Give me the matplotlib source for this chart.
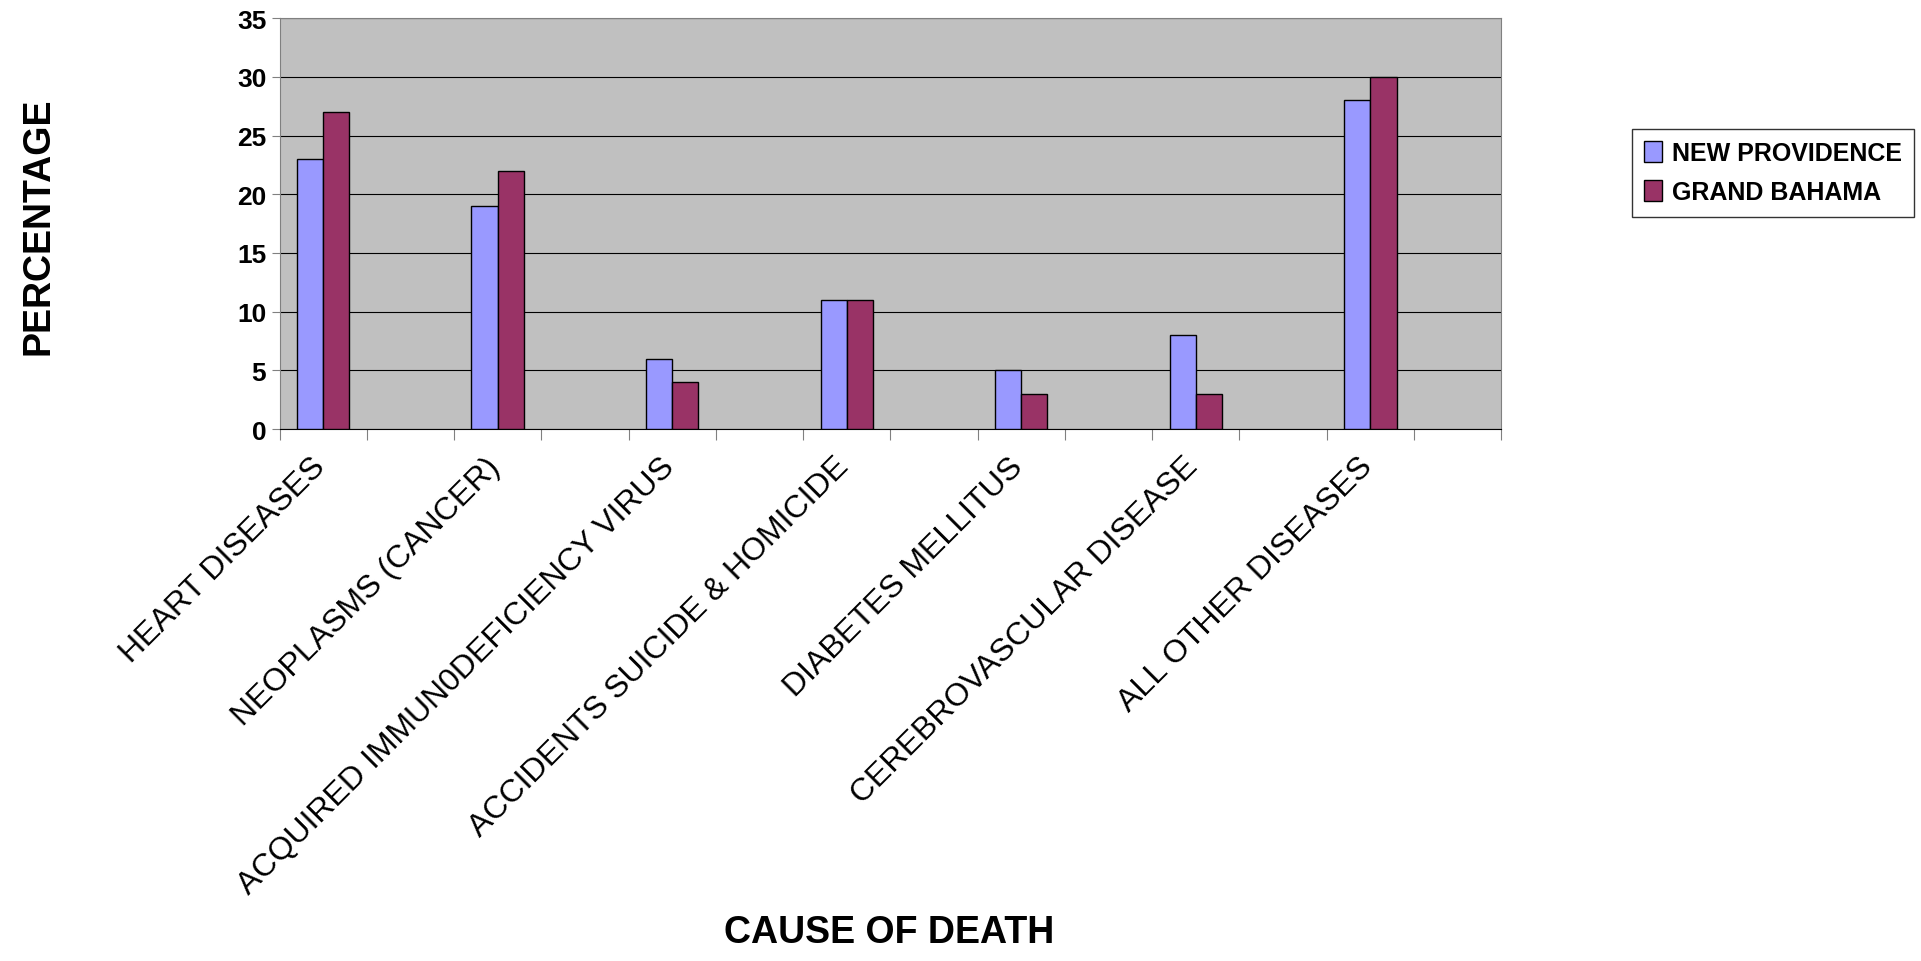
import matplotlib.pyplot as plt
import numpy as np

plt.rcParams['font.family'] = ['Liberation Sans', 'DejaVu Sans']

causes = ["HEART DISEASES", "NEOPLASMS (CANCER)", "ACQUIRED IMMUN0DEFICIENCY VIRUS",
          "ACCIDENTS SUICIDE & HOMICIDE", "DIABETES MELLITUS",
          "CEREBROVASCULAR DISEASE", "ALL OTHER DISEASES"]
new_providence = [23, 19, 6, 11, 5, 8, 28]
grand_bahama = [27, 22, 4, 11, 3, 3, 30]

fig = plt.figure(figsize=(19.21, 9.62), dpi=100)
ax = fig.add_axes([0.1455, 0.553, 0.636, 0.427])
ax.set_facecolor("#c0c0c0")

# each cause sits in the first half of a two-tick slot
x = np.arange(len(causes)) * 2 + 0.5
w = 0.3
ax.bar(x - w / 2, new_providence, w, color="#9999ff", edgecolor="black", linewidth=1, label="NEW PROVIDENCE", zorder=3)
ax.bar(x + w / 2, grand_bahama, w, color="#993366", edgecolor="black", linewidth=1, label="GRAND BAHAMA", zorder=3)

ax.set_xlim(0, 14)
ax.set_ylim(0, 35)
ax.set_yticks(range(0, 36, 5))
ax.yaxis.grid(True, color="black", linewidth=0.8, zorder=0)
ax.set_xticks(np.arange(0, 15, 1))
ax.set_xticklabels([])
ax.set_xticks(x - 0.15, minor=True)
ax.set_xticklabels(causes, minor=True, rotation=45, ha="right", rotation_mode="anchor", fontsize=23)
ax.tick_params(axis="x", which="minor", length=0, pad=16)
ax.tick_params(axis="x", which="major", length=8, direction="out", color="#808080")
ax.tick_params(axis="y", labelsize=19, length=6, color="#808080")
for t in ax.get_yticklabels():
    t.set_fontweight("bold")
for s in ax.spines.values():
    s.set_color("#808080")
ax.spines["bottom"].set_color("black")

fig.text(0.02, 0.765, "PERCENTAGE", rotation=90, ha="center", va="center", fontsize=27, fontweight="bold")
fig.text(0.463, 0.03, "CAUSE OF DEATH", ha="center", va="center", fontsize=27, fontweight="bold")

leg = fig.legend(loc="upper left", bbox_to_anchor=(0.843, 0.878), fancybox=False, edgecolor="black",
                 prop={"weight": "bold", "size": 18}, handlelength=0.7, handleheight=0.9,
                 borderpad=0.5, labelspacing=0.6, handletextpad=0.4)
leg.get_frame().set_linewidth(1)

fig.savefig("out.png")
